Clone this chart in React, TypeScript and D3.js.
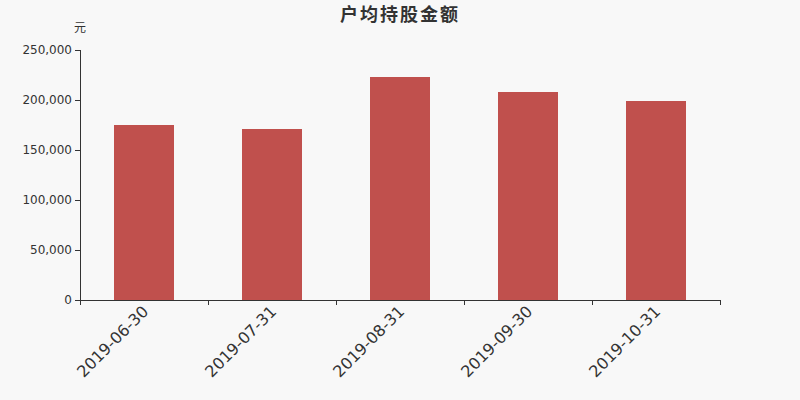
import React from "react";
import * as d3 from "d3";

const categories = ["2019-06-30", "2019-07-31", "2019-08-31", "2019-09-30", "2019-10-31"];
const values = [175000, 171000, 223000, 208000, 199000];
const yTicks = [0, 50000, 100000, 150000, 200000, 250000];
const title = "户均持股金额";
const unit = "元";

export default function App() {
  const W = 800, H = 400;
  const left = 80, right = 720, top = 50, bottom = 300;
  const x = d3.scaleBand<string>().domain(categories).range([left, right]);
  const y = d3.scaleLinear().domain([0, 250000]).range([bottom, top]);
  const barW = 60;
  const fmt = d3.format(",");
  const font = "'DejaVu Sans', 'Noto Sans CJK SC', sans-serif";
  const edges = [...categories.map((c) => x(c) as number), right];
  return (
    <svg width={W} height={H} style={{ position: "absolute", left: 0, top: 0, background: "#f8f8f8" }} fontFamily={font}>
      <rect x={0} y={0} width={W} height={H} fill="#f8f8f8" />
      <text x={400} y={21} textAnchor="middle" fontSize={18} letterSpacing={2} fontWeight="bold" fill="#333" fontFamily="'Noto Sans CJK SC', sans-serif">{title}</text>
      <text x={80} y={32} textAnchor="middle" fontSize={12} fill="#333" fontFamily="'Noto Sans CJK SC', sans-serif">{unit}</text>
      {categories.map((c, i) => {
        const cx = (x(c) as number) + x.bandwidth() / 2;
        return (
          <rect key={c} x={cx - barW / 2} y={y(values[i])} width={barW} height={bottom - y(values[i])} fill="#c0504d" />
        );
      })}
      <line x1={left + 0.5} x2={left + 0.5} y1={top} y2={bottom} stroke="#333" />
      {yTicks.map((t) => (
        <g key={t}>
          <line x1={left - 5} x2={left} y1={Math.round(y(t)) + 0.5} y2={Math.round(y(t)) + 0.5} stroke="#333" />
          <text x={left - 8} y={y(t)} dy="0.35em" textAnchor="end" fontSize={12} fill="#333">{fmt(t)}</text>
        </g>
      ))}
      <line x1={left} x2={right} y1={bottom + 0.5} y2={bottom + 0.5} stroke="#333" />
      {edges.map((e, i) => (
        <line key={i} x1={Math.round(e) + 0.5} x2={Math.round(e) + 0.5} y1={bottom} y2={bottom + 5} stroke="#333" />
      ))}
      {categories.map((c) => {
        const cx = (x(c) as number) + x.bandwidth() / 2;
        return (
          <text key={c} transform={`translate(${cx - 3},${bottom + 4}) rotate(-45)`} textAnchor="end" dy="0.75em" fontSize={16} fill="#333">{c}</text>
        );
      })}
    </svg>
  );
}
